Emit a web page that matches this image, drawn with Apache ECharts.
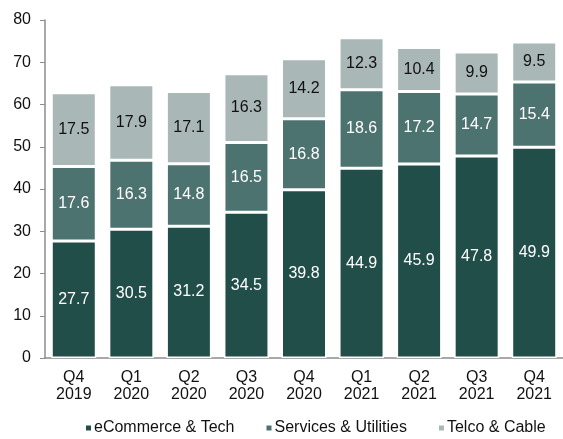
<!DOCTYPE html>
<html><head><meta charset="utf-8">
<script src="https://cdn.jsdelivr.net/npm/echarts@6/dist/echarts.min.js"></script>
<style>html,body{margin:0;padding:0;background:#fff}#c{width:563px;height:439px}</style>
</head><body><div id="c"></div>
<script>
const categories = ['Q4\n2019','Q1\n2020','Q2\n2020','Q3\n2020','Q4\n2020','Q1\n2021','Q2\n2021','Q3\n2021','Q4\n2021'];
const ecommerce = [27.7, 30.5, 31.2, 34.5, 39.8, 44.9, 45.9, 47.8, 49.9];
const services = [17.6, 16.3, 14.8, 16.5, 16.8, 18.6, 17.2, 14.7, 15.4];
const telco = [17.5, 17.9, 17.1, 16.3, 14.2, 12.3, 10.4, 9.9, 9.5];
const yTicks = [0, 10, 20, 30, 40, 50, 60, 70, 80];

const font = 'Liberation Sans, Arial, sans-serif';
function s(name, data, color, labelColor) {
  return {
    name, type: 'bar', stack: 'a', data, barWidth: 45,
    itemStyle: { color, borderColor: '#fff', borderWidth: 1.5 },
    label: { show: true, position: 'inside', color: labelColor, fontSize: 16, fontFamily: font,
      formatter: p => p.value.toFixed(1) },
    emphasis: { disabled: true }
  };
}
const chart = echarts.init(document.getElementById('c'), null, { renderer: 'canvas' });
chart.setOption({
  animation: false,
  grid: { left: 45, right: -11, top: 20, bottom: 81, containLabel: false },
  xAxis: {
    type: 'category', data: categories,
    axisLine: { lineStyle: { color: '#8c8c8c', width: 1.5 } },
    axisTick: { show: false },
    axisLabel: { color: '#111', fontSize: 16, fontFamily: font, lineHeight: 17, margin: 11 }
  },
  yAxis: {
    type: 'value', min: yTicks[0], max: yTicks[yTicks.length - 1], interval: 10,
    splitLine: { show: false },
    axisLine: { show: true, lineStyle: { color: '#8c8c8c', width: 1.5 } },
    axisTick: { show: true, length: 5, lineStyle: { color: '#8c8c8c' } },
    axisLabel: { color: '#111', fontSize: 16, fontFamily: font, margin: 14 }
  },
  legend: {
    top: 420, left: 84, padding: 0, itemWidth: 7, itemHeight: 7, itemGap: 30, icon: 'rect',
    textStyle: { color: '#111', fontSize: 16, fontFamily: font, padding: [0, 0, 0, -3] },
    data: ['eCommerce & Tech', 'Services & Utilities', 'Telco & Cable']
  },
  series: [
    s('eCommerce & Tech', ecommerce, '#224e4a', '#fff'),
    s('Services & Utilities', services, '#4d7370', '#fff'),
    s('Telco & Cable', telco, '#a9b7b6', '#111')
  ]
});
</script></body></html>
